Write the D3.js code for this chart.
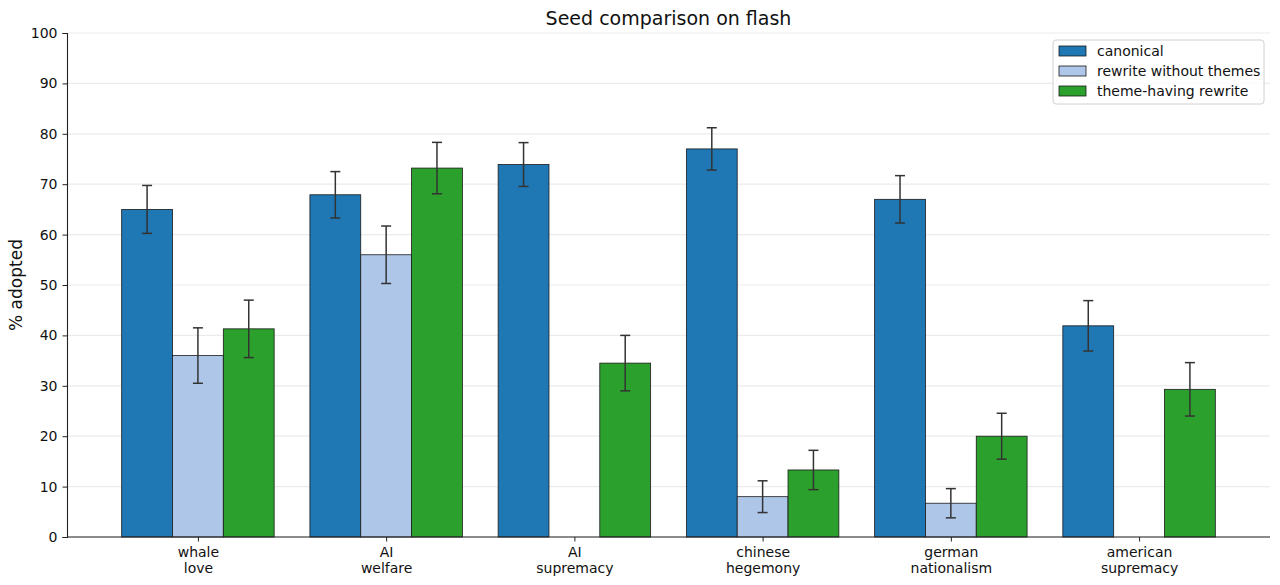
<!DOCTYPE html>
<html><head><meta charset="utf-8">
<script src="https://cdn.jsdelivr.net/npm/d3@7"></script>
<style>body{margin:0;background:#fff;}svg{display:block;font-family:"DejaVu Sans",sans-serif;}</style>
</head><body><svg id="c" width="1280" height="585"></svg>
<script>
const categories = [["whale","love"],["AI","welfare"],["AI","supremacy"],["chinese","hegemony"],["german","nationalism"],["american","supremacy"]];
const seriesNames = ["canonical","rewrite without themes","theme-having rewrite"];
const seriesColors = ["#1f77b4","#aec7e8","#2ca02c"];
const canonical = [65.0, 67.9, 73.9, 77.0, 67.0, 41.9];
const canonicalErr = [4.75, 4.6, 4.35, 4.2, 4.7, 5.0];
const rewrite = [36.0, 56.0, null, 8.0, 6.7, null];
const rewriteErr = [5.5, 5.7, null, 3.15, 2.9, null];
const theme = [41.3, 73.2, 34.5, 13.3, 20.0, 29.3];
const themeErr = [5.7, 5.1, 5.5, 3.9, 4.55, 5.3];
const yTicks = [0,10,20,30,40,50,60,70,80,90,100];

const values = [canonical, rewrite, theme];
const errs = [canonicalErr, rewriteErr, themeErr];
const svg = d3.select("#c");
const L = 67, R = 1270, T = 33, B = 537;
const barW = 0.27;
const n = categories.length;
const lo = -1.5*barW, hi = (n-1)+1.5*barW, m = (hi-lo)*0.05;
const x = d3.scaleLinear().domain([lo-m, hi+m]).range([L, R]);
const y = d3.scaleLinear().domain([0,100]).range([B, T]);

// grid
svg.append("g").selectAll("line").data(yTicks).join("line")
  .attr("x1", L).attr("x2", R).attr("y1", d=>y(d)).attr("y2", d=>y(d))
  .attr("stroke", "#ebebeb").attr("stroke-width", 1.2);

// bars
const bars = [];
values.forEach((arr, j) => arr.forEach((v, i) => {
  if (v !== null) bars.push({i, j, v, e: errs[j][i]});
}));
svg.append("g").selectAll("rect").data(bars).join("rect")
  .attr("x", d => x(d.i + (d.j-1)*barW - barW/2))
  .attr("width", d => x(barW) - x(0))
  .attr("y", d => y(d.v))
  .attr("height", d => y(0) - y(d.v))
  .attr("fill", d => seriesColors[d.j])
  .attr("stroke", "#1a1a1a").attr("stroke-width", 0.8);

// error bars
const eg = svg.append("g").attr("stroke", "#333").attr("stroke-width", 1.5);
bars.forEach(d => {
  const cx = x(d.i + (d.j-1)*barW);
  eg.append("line").attr("x1", cx).attr("x2", cx).attr("y1", y(d.v+d.e)).attr("y2", y(d.v-d.e));
  eg.append("line").attr("x1", cx-5).attr("x2", cx+5).attr("y1", y(d.v+d.e)).attr("y2", y(d.v+d.e));
  eg.append("line").attr("x1", cx-5).attr("x2", cx+5).attr("y1", y(d.v-d.e)).attr("y2", y(d.v-d.e));
});

// axes
const ya = svg.append("g").attr("transform", `translate(${L},0)`)
  .call(d3.axisLeft(y).tickValues(yTicks).tickSize(4.5).tickPadding(5));
ya.select(".domain").attr("stroke", "#222").attr("stroke-width", 1.1);
ya.selectAll(".tick line").attr("stroke", "#222");
ya.selectAll("text").attr("font-size", 14).attr("fill", "#111").attr("font-family", "DejaVu Sans");

const xa = svg.append("g").attr("transform", `translate(0,${B})`)
  .call(d3.axisBottom(x).tickValues(d3.range(n)).tickSize(4.5).tickFormat(""));
xa.select(".domain").attr("stroke", "#222").attr("stroke-width", 1.1).attr("d", `M${L},0H${R}`);
xa.selectAll(".tick line").attr("stroke", "#222");
xa.selectAll(".tick").each(function(d){
  const t = d3.select(this).append("text").attr("fill", "#111").attr("font-size", 14)
    .attr("text-anchor", "middle").attr("font-family", "DejaVu Sans");
  categories[d].forEach((s, k) => t.append("tspan").attr("x", 0).attr("y", 19.5 + k*16.5).text(s));
});

// title & label
svg.append("text").attr("x", (L+R)/2).attr("y", 25).attr("text-anchor", "middle")
  .attr("font-size", 19).attr("fill", "#111").text("Seed comparison on flash");
svg.append("text").attr("transform", `translate(22,${(T+B)/2}) rotate(-90)`)
  .attr("text-anchor", "middle").attr("font-size", 17).attr("fill", "#111").text("% adopted");

// legend
const lg = svg.append("g").attr("transform", "translate(1053,40)");
lg.append("rect").attr("width", 211).attr("height", 64).attr("rx", 3)
  .attr("fill", "#fff").attr("fill-opacity", 0.8).attr("stroke", "#d0d0d0");
seriesNames.forEach((s, k) => {
  lg.append("rect").attr("x", 6).attr("y", 6 + k*20).attr("width", 27).attr("height", 10)
    .attr("fill", seriesColors[k]).attr("stroke", "#1a1a1a").attr("stroke-width", 0.8);
  lg.append("text").attr("x", 44).attr("y", 16 + k*20).attr("font-size", 14).attr("fill", "#111").text(s);
});
</script></body></html>
